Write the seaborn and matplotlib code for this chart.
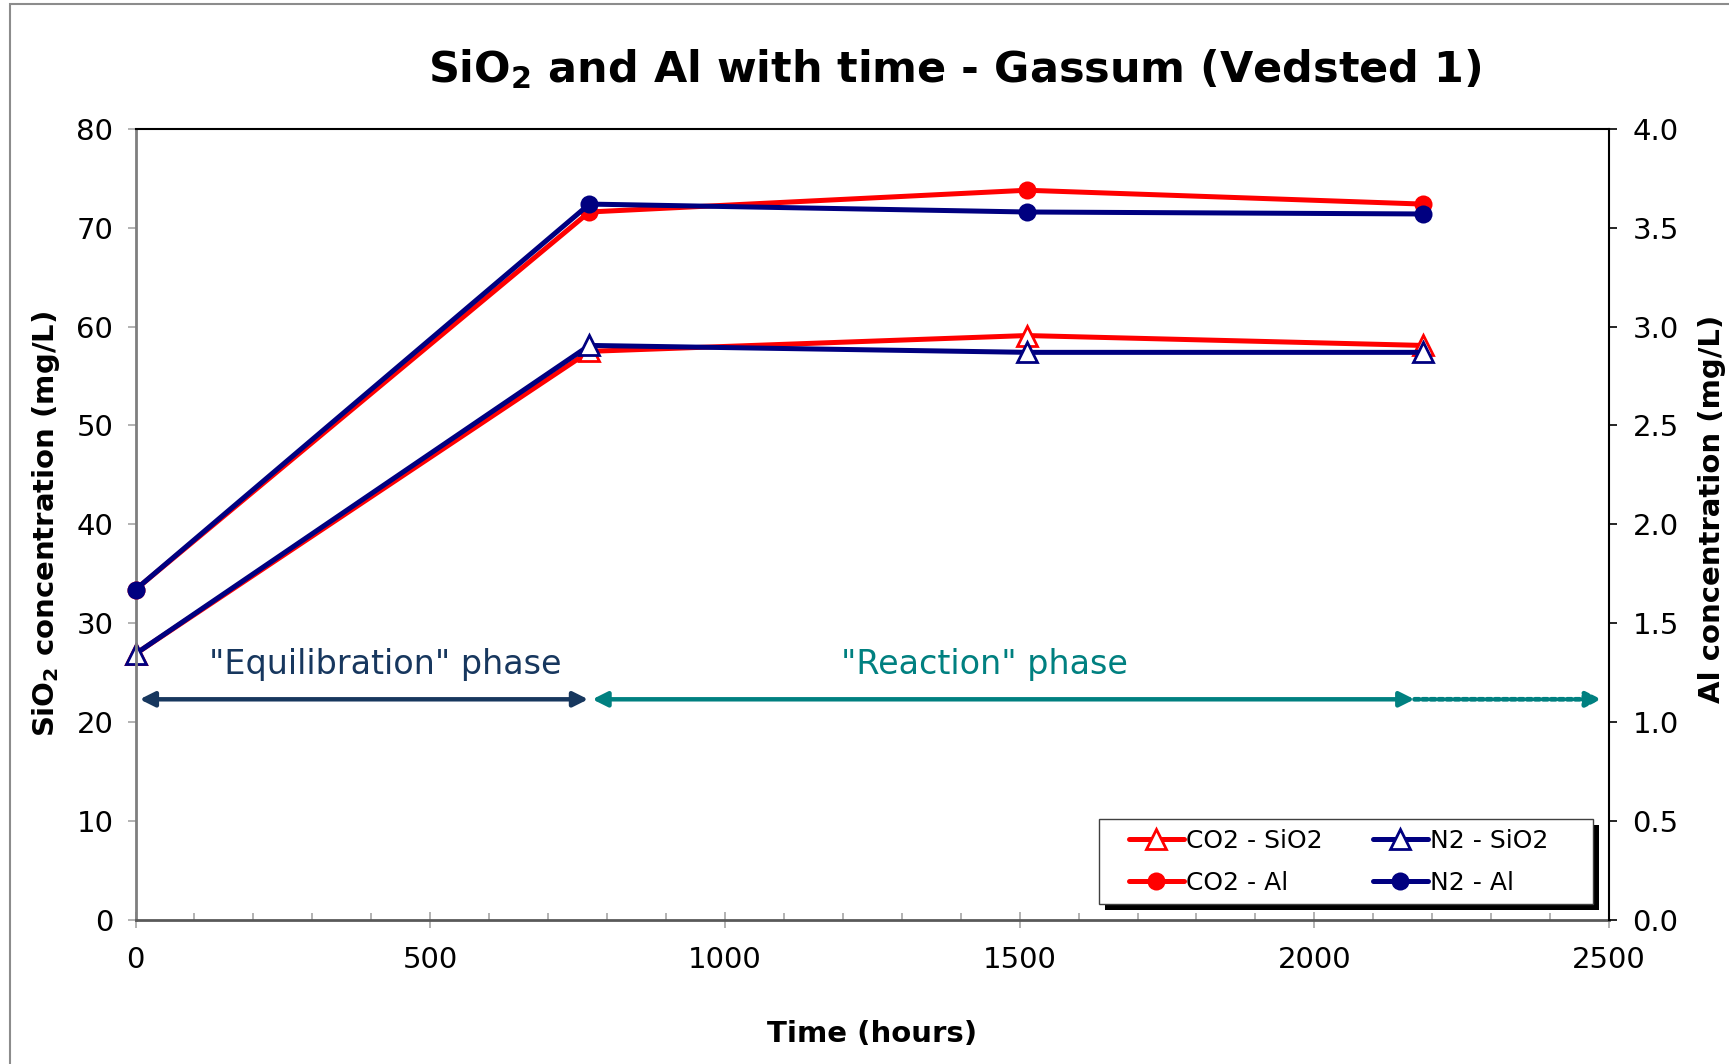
import numpy as np
import pandas as pd
import seaborn as sns
import matplotlib.pyplot as plt
from matplotlib.patches import Rectangle

# data
hours = [0, 770, 1512, 2184]
co2_sio2 = [26.9, 57.5, 59.1, 58.1]
n2_sio2 = [26.9, 58.1, 57.4, 57.4]
co2_al = [1.67, 3.58, 3.69, 3.62]
n2_al = [1.67, 3.62, 3.58, 3.57]

# phase arrows (hours)
equil_span = [7, 768]
react_span = [775, 2170]
dotted_span = [2170, 2487]
arrow_y = 22.3

red = "#FF0000"
navy = "#000080"

sns.set_style("white")
plt.rcParams["font.family"] = ["DejaVu Sans"]
plt.rcParams.update({"text.color": "black", "axes.labelcolor": "black",
                     "xtick.color": "black", "ytick.color": "black"})

fig = plt.figure(figsize=(17.29, 10.64), dpi=100)
ax = fig.add_axes([0.0784, 0.1356, 0.8522, 0.7432])
ax2 = ax.twinx()

df = pd.DataFrame({"hours": hours, "co2_sio2": co2_sio2, "n2_sio2": n2_sio2,
                   "co2_al": co2_al, "n2_al": n2_al})

tri = dict(marker="^", markersize=14, markerfacecolor="white", markeredgewidth=2)
circ = dict(marker="o", markersize=13, markeredgewidth=0)
sns.lineplot(data=df, x="hours", y="co2_sio2", ax=ax, color=red, lw=3.6,
             markeredgecolor=red, label="CO2 - SiO2", **tri)
sns.lineplot(data=df, x="hours", y="n2_sio2", ax=ax, color=navy, lw=3.6,
             markeredgecolor=navy, label="N2 - SiO2", **tri)
sns.lineplot(data=df, x="hours", y="co2_al", ax=ax2, color=red, lw=3.6,
             markerfacecolor=red, label="CO2 - Al", **circ)
sns.lineplot(data=df, x="hours", y="n2_al", ax=ax2, color=navy, lw=3.6,
             markerfacecolor=navy, label="N2 - Al", **circ)
for a in (ax, ax2):
    if a.get_legend() is not None:
        a.get_legend().remove()
    for l in a.lines:
        l.set_clip_on(False)

ax.set_xlim(0, 2500)
ax.set_ylim(0, 80)
ax2.set_ylim(0, 4)
ax.set_xticks(np.arange(0, 2501, 500))
ax.set_xticks(np.arange(0, 2501, 100), minor=True)
ax.set_yticks(np.arange(0, 81, 10))
ax2.set_yticks(np.arange(0, 4.01, 0.5))
ax2.set_yticklabels([f"{v:.1f}" for v in np.arange(0, 4.01, 0.5)])

ax.tick_params(axis="x", which="major", direction="inout", length=12, width=1.2,
               color="#A6A6A6", labelsize=21, pad=13, bottom=True)
ax.tick_params(axis="x", which="minor", direction="in", length=5, width=1.2,
               color="#A6A6A6", bottom=True)
ax.tick_params(axis="y", direction="out", length=6, width=1.2, color="#A6A6A6",
               labelsize=21, pad=10, left=True)
ax2.tick_params(axis="y", direction="out", length=6, width=1.2, color="black",
                labelsize=21, pad=11, right=True)

ax.spines["left"].set_color("#7F7F7F")
ax.spines["left"].set_linewidth(2)
ax.spines["bottom"].set_color("#595959")
ax.spines["bottom"].set_linewidth(2)
ax.spines["top"].set_visible(False)
ax.spines["right"].set_visible(False)
ax2.spines["left"].set_visible(False)
ax2.spines["bottom"].set_visible(False)
ax2.spines["top"].set_color("black")
ax2.spines["top"].set_linewidth(1.5)
ax2.spines["right"].set_color("black")
ax2.spines["right"].set_linewidth(1.5)

ax.set_xlabel("Time (hours)", fontsize=21, fontweight="bold", labelpad=33)
ax.set_ylabel(r"SiO$_\mathbf{2}$ concentration (mg/L)", fontsize=21,
              fontweight="bold", labelpad=10)
ax2.set_ylabel("Al concentration (mg/L)", fontsize=21, fontweight="bold",
               labelpad=14)
ax2.yaxis.label.set_y(0.52)

fig.suptitle(r"SiO$_\mathbf{2}$ and Al with time - Gassum (Vedsted 1)",
             x=0.552, y=0.956, fontsize=31, fontweight="bold")

# phase arrows and labels
ax.annotate("", xy=(equil_span[1], arrow_y), xytext=(equil_span[0], arrow_y),
            arrowprops=dict(arrowstyle="<|-|>", color="#17375E", lw=3.2,
                            mutation_scale=22, shrinkA=0, shrinkB=0))
ax.annotate("", xy=(react_span[1], arrow_y), xytext=(react_span[0], arrow_y),
            arrowprops=dict(arrowstyle="<|-|>", color="#008080", lw=3.2,
                            mutation_scale=22, shrinkA=0, shrinkB=0))
ax.annotate("", xy=(dotted_span[1], arrow_y), xytext=(dotted_span[0], arrow_y),
            arrowprops=dict(arrowstyle="-|>", color="#008080", lw=3.4,
                            linestyle=(0, (1.0, 0.7)), mutation_scale=22,
                            shrinkA=0, shrinkB=0))
ax.text(423, 25.8, "\"Equilibration\" phase", color="#17375E", fontsize=24,
        ha="center", va="center")
ax.text(1441, 25.8, "\"Reaction\" phase", color="#008080", fontsize=24,
        ha="center", va="center")

# legend box with a hard black shadow, Excel style
box_x0, box_x1, box_y0, box_y1 = 0.654, 0.9894, 0.0198, 0.127
px = 1 / (0.8522 * 1729)
py = 1 / (0.7432 * 1064)
ax2.add_patch(Rectangle((box_x0 + 6 * px, box_y0 - 6 * py), box_x1 - box_x0,
                        box_y1 - box_y0, transform=ax2.transAxes,
                        facecolor="black", edgecolor="none", zorder=8,
                        clip_on=False))
ax2.add_patch(Rectangle((box_x0, box_y0), box_x1 - box_x0, box_y1 - box_y0,
                        transform=ax2.transAxes, facecolor="white",
                        edgecolor="#404040", lw=1, zorder=9, clip_on=False))

h1, l1 = ax.get_legend_handles_labels()
h2, l2 = ax2.get_legend_handles_labels()
handles = [h1[0], h2[0], h1[1], h2[1]]
labels = [l1[0], l2[0], l1[1], l2[1]]
leg = ax2.legend(handles, labels, ncol=2, loc="center",
                 bbox_to_anchor=(0.8166, 0.0734), fontsize=18, frameon=False,
                 handlelength=2.2, handletextpad=0.1, columnspacing=2.0,
                 borderpad=0, borderaxespad=0, labelspacing=0.72)
leg.set_zorder(10)

# outer chart border
fig.add_artist(Rectangle((0.0058, -0.05), 1.1, 1.0462, transform=fig.transFigure,
                         fill=False, edgecolor="#8C8C8C", lw=1.5))

fig.savefig("out.png", dpi=100)
